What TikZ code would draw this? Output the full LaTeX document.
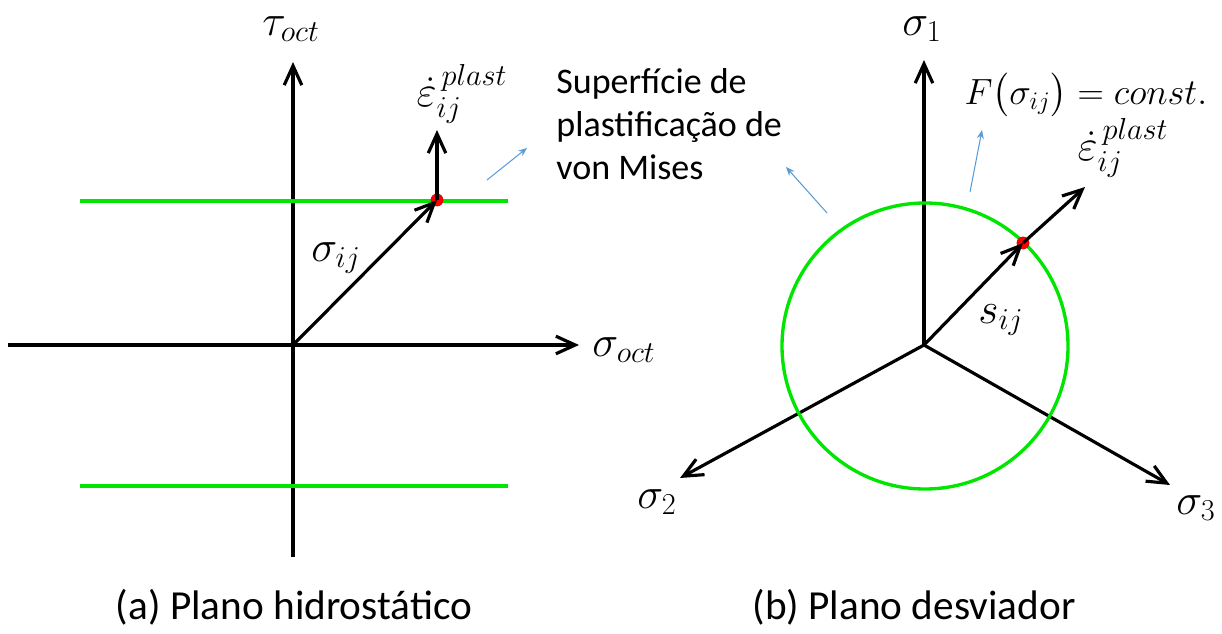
\documentclass[tikz,border=0pt]{standalone}
\usepackage{amsmath}
\usepackage[no-math]{fontspec}
\setmainfont{Carlito}
\usepackage{xcolor}
\usetikzlibrary{arrows.meta,positioning,calc}
\definecolor{officeblue}{RGB}{91,155,213}
\definecolor{yieldgreen}{RGB}{0,230,0}
\tikzstyle{axis}   =[-{Straight Barb[length=11pt,width=10pt]}, line width=1.8pt, black]
\tikzstyle{yield}  =[line width=1.9pt, draw=yieldgreen]
\tikzstyle{pointer}=[-{Stealth[length=5pt,width=4pt]}, line width=0.6pt, officeblue]
\tikzstyle{reddot} =[circle, fill=red, draw=red!70!black, line width=0.2pt,
                     inner sep=0pt, minimum size=7pt]
\tikzstyle{mlabel} =[font=\fontsize{23pt}{27pt}\selectfont, inner sep=1pt]
\tikzstyle{caption}=[font=\fontsize{23.5pt}{28pt}\selectfont]

\begin{document}
\begin{tikzpicture}[x=0.02cm, y=-0.02cm]
  \useasboundingbox (0,0) rectangle (1222,634);

  % ── (a) hydrostatic plane ──────────────────────────────────────────────────
  \coordinate (oA)    at (293, 345);
  \coordinate (hLeft) at (8,   345);
  \coordinate (hRight)at (579, 345);
  \coordinate (vBot)  at (293, 557);
  \coordinate (vTop)  at (293,  62);
  \draw[axis] (hLeft) -- (hRight);
  \draw[axis] (vBot)  -- (vTop);

  \coordinate (yTopL) at (80,  201);
  \coordinate (yTopR) at (508, 201);
  \coordinate (yBotL) at (80,  486);
  \coordinate (yBotR) at (508, 486);
  \draw[yield] (yTopL) -- (yTopR);
  \draw[yield] (yBotL) -- (yBotR);

  \node[reddot] (pA) at (437, 200) {};
  \coordinate (epsA) at (437, 130);
  \draw[axis] (oA) -- (pA.center);
  \draw[axis] (pA.center) -- (epsA);

  \node[mlabel] (tauoct) at (291, 29)  {$\tau_{oct}$};
  \node[mlabel] (sigoct) at (624, 350) {$\sigma_{oct}$};
  \node[mlabel] (sigij)  at (336, 258) {$\sigma_{ij}$};
  \node[mlabel] (epsLabA)at (462, 94)  {$\dot{\varepsilon}_{ij}^{\,plast}$};

  \node[anchor=north west, align=left, inner sep=0pt,
        font=\fontsize{20.5pt}{24.5pt}\selectfont] (vonmises) at (556, 68)
    {Superfície de\\plastificação de\\von Mises};
  \coordinate (ptrAs) at (487, 180);
  \coordinate (ptrAe) at (527, 148);
  \draw[pointer] (ptrAs) -- (ptrAe);

  % ── (b) deviatoric plane ───────────────────────────────────────────────────
  \coordinate (oB)  at (924, 345);
  \coordinate (s1)  at (924,  60);
  \coordinate (s2)  at (680, 478);
  \coordinate (s3)  at (1170,485);
  \draw[axis] (oB) -- (s1);
  \draw[axis] (oB) -- (s2);
  \draw[axis] (oB) -- (s3);

  \node[circle, yield, minimum size=286*0.02cm, inner sep=0pt] (mises) at (925, 346) {};

  \node[reddot] (pB) at (1023, 243) {};
  \coordinate (epsB) at (1085, 187);
  \draw[axis] (oB) -- (pB.center);
  \draw[axis] (pB.center) -- (epsB);

  \node[mlabel] (sig1)    at (922, 29)  {$\sigma_1$};
  \node[mlabel] (sig2)    at (657, 502) {$\sigma_2$};
  \node[mlabel] (sig3)    at (1196,508) {$\sigma_3$};
  \node[mlabel] (sij)     at (1001,320) {$s_{ij}$};
  \node[mlabel] (epsLabB) at (1123,148) {$\dot{\varepsilon}_{ij}^{\,plast}$};
  \node[mlabel, font=\fontsize{21pt}{25pt}\selectfont]
                (Fconst)  at (1086, 95) {$F\big(\sigma_{ij}\big) = const.$};

  \coordinate (ptrBs) at (827, 213);
  \coordinate (ptrBe) at (786, 167);
  \coordinate (ptrCs) at (970, 192);
  \coordinate (ptrCe) at (982, 130);
  \draw[pointer] (ptrBs) -- (ptrBe);
  \draw[pointer] (ptrCs) -- (ptrCe);

  % ── captions ───────────────────────────────────────────────────────────────
  \node[caption] (capA) at (294, 607) {(a) Plano hidrostático};
  \node[caption] (capB) at (914, 607) {(b) Plano desviador};

\end{tikzpicture}
\end{document}
